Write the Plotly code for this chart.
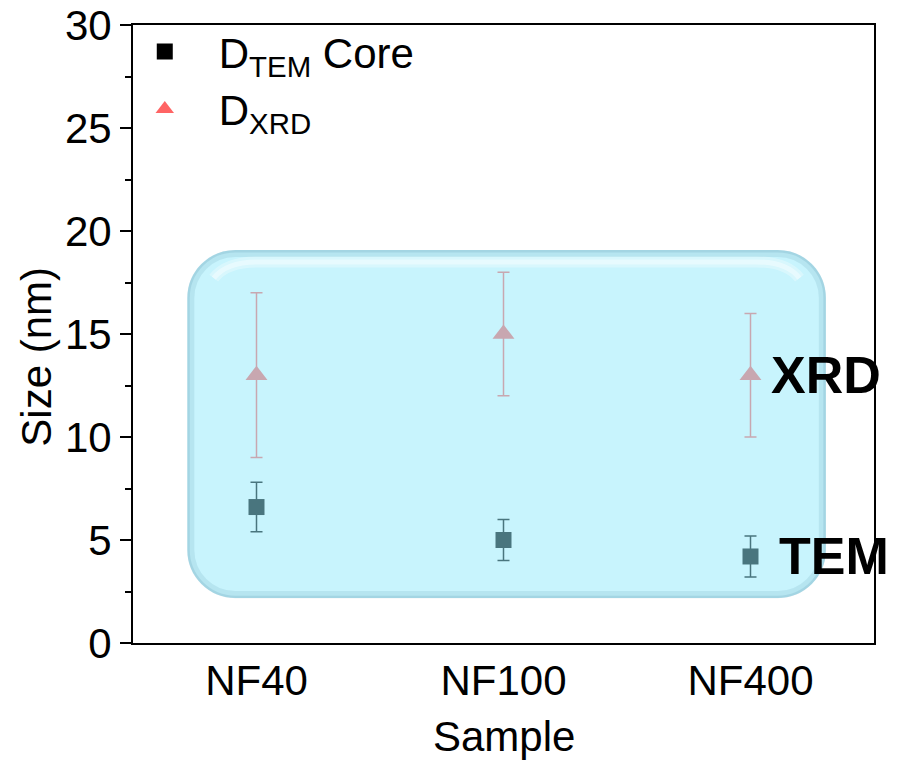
import plotly.graph_objects as go

# Samples and measured particle sizes (nm)
samples = ["NF40", "NF100", "NF400"]
x_pos = [1, 2, 3]
d_tem = [6.6, 5.0, 4.2]
d_tem_err = [1.2, 1.0, 1.0]
d_xrd = [13.0, 15.0, 13.0]
d_xrd_err = [4.0, 3.0, 3.0]

y_ticks = [0, 5, 10, 15, 20, 25, 30]

# Highlight panel extent (data units)
panel_x = (0.72, 3.305)
panel_y = (2.18, 19.08)

W, H = 897, 761
M_L, M_R, M_T, M_B = 133, 23, 25, 118
X_RANGE = (0.5, 3.5)
Y_RANGE = (0, 30)
PX_X = (W - M_L - M_R) / (X_RANGE[1] - X_RANGE[0])
PX_Y = (H - M_T - M_B) / (Y_RANGE[1] - Y_RANGE[0])

FONT = "Liberation Sans, Arial, sans-serif"
RED = "#ff6464"
K = 0.5523


def rounded(inset_px=0.0, radius_px=48.0):
    dx, dy = inset_px / PX_X, inset_px / PX_Y
    x0, x1 = panel_x[0] + dx, panel_x[1] - dx
    y0, y1 = panel_y[0] + dy, panel_y[1] - dy
    rx, ry = (radius_px - inset_px) / PX_X, (radius_px - inset_px) / PX_Y
    return (
        f"M{x0 + rx},{y0} L{x1 - rx},{y0} "
        f"C{x1 - rx + K * rx},{y0} {x1},{y0 + ry - K * ry} {x1},{y0 + ry} "
        f"L{x1},{y1 - ry} "
        f"C{x1},{y1 - ry + K * ry} {x1 - rx + K * rx},{y1} {x1 - rx},{y1} "
        f"L{x0 + rx},{y1} "
        f"C{x0 + rx - K * rx},{y1} {x0},{y1 - ry + K * ry} {x0},{y1 - ry} "
        f"L{x0},{y0 + ry} "
        f"C{x0},{y0 + ry - K * ry} {x0 + rx - K * rx},{y0} {x0 + rx},{y0} Z"
    )


def top_edge(inset_px, radius_px=48.0):
    dx, dy = inset_px / PX_X, inset_px / PX_Y
    x0, x1 = panel_x[0] + dx, panel_x[1] - dx
    y1 = panel_y[1] - dy
    rx, ry = (radius_px - inset_px) / PX_X, (radius_px - inset_px) / PX_Y
    return (
        f"M{x0 + 0.4 * rx},{y1 - 0.45 * ry} "
        f"Q{x0 + 0.75 * rx},{y1} {x0 + 1.6 * rx},{y1} "
        f"L{x1 - 1.6 * rx},{y1} "
        f"Q{x1 - 0.75 * rx},{y1} {x1 - 0.4 * rx},{y1 - 0.45 * ry}"
    )


fig = go.Figure()

fig.add_trace(go.Scatter(
    x=x_pos, y=d_tem, mode="markers",
    name="D<sub>TEM</sub> Core",
    marker=dict(symbol="square", size=16, color="black"),
    error_y=dict(type="data", array=d_tem_err, color="black", thickness=1.5, width=6),
))
fig.add_trace(go.Scatter(
    x=x_pos, y=d_xrd, mode="markers",
    name="D<sub>XRD</sub>",
    marker=dict(symbol="triangle-up", size=19, color=RED),
    error_y=dict(type="data", array=d_xrd_err, color=RED, thickness=1.5, width=6),
))

shapes = [
    dict(type="path", path=rounded(0), xref="x", yref="y", layer="above",
         fillcolor="rgba(145,233,251,0.5)", line=dict(width=0)),
    dict(type="path", path=rounded(3.5), xref="x", yref="y", layer="above",
         line=dict(color="rgba(60,120,150,0.12)", width=7)),
    dict(type="path", path=rounded(1.2), xref="x", yref="y", layer="above",
         line=dict(color="rgba(70,130,160,0.16)", width=2.5)),
    dict(type="path", path=top_edge(12), xref="x", yref="y", layer="above",
         line=dict(color="rgba(255,255,255,0.3)", width=11)),
    dict(type="path", path=top_edge(12), xref="x", yref="y", layer="above",
         line=dict(color="rgba(255,255,255,0.4)", width=5)),
]

annotations = [
    dict(text="<b>XRD</b>", x=x_pos[2], y=d_xrd[2], xref="x", yref="y",
         xanchor="left", yanchor="middle", xshift=18, showarrow=False,
         font=dict(family=FONT, size=52, color="black")),
    dict(text="<b>TEM</b>", x=x_pos[2], y=d_tem[2], xref="x", yref="y",
         xanchor="left", yanchor="middle", xshift=26, showarrow=False,
         font=dict(family=FONT, size=52, color="black")),
    dict(text="Size (nm)", x=0, y=13.9, xref="paper", yref="y",
         xanchor="center", yanchor="middle", xshift=-96, textangle=-90,
         showarrow=False, font=dict(family=FONT, size=42, color="black")),
    dict(text="Sample", x=0.5, y=0, xref="paper", yref="paper",
         xanchor="center", yanchor="middle", yshift=-93,
         showarrow=False, font=dict(family=FONT, size=42, color="black")),
]

fig.update_layout(
    width=W, height=H,
    margin=dict(l=M_L, r=M_R, t=M_T, b=M_B, pad=0, autoexpand=False),
    paper_bgcolor="white", plot_bgcolor="white",
    font=dict(family=FONT, size=42, color="black"),
    shapes=shapes, annotations=annotations,
    showlegend=True,
    legend=dict(x=-0.03, y=1.012, xanchor="left", yanchor="top",
                bgcolor="rgba(0,0,0,0)", font=dict(size=42),
                itemwidth=98, tracegroupgap=0),
    xaxis=dict(range=list(X_RANGE), tickvals=x_pos, ticktext=samples,
               showline=True, linecolor="black", linewidth=2, mirror=True,
               ticks="", showgrid=False, zeroline=False, automargin=False,
               tickfont=dict(size=42)),
    yaxis=dict(range=list(Y_RANGE), tickvals=y_ticks,
               showline=True, linecolor="black", linewidth=2, mirror=True,
               ticks="outside", ticklen=11, tickwidth=2, tickcolor="black",
               minor=dict(dtick=2.5, ticks="outside", ticklen=6, tickwidth=2,
                          tickcolor="black"),
               showgrid=False, zeroline=False, automargin=False,
               tickfont=dict(size=42)),
)

fig.write_html("out.html")
